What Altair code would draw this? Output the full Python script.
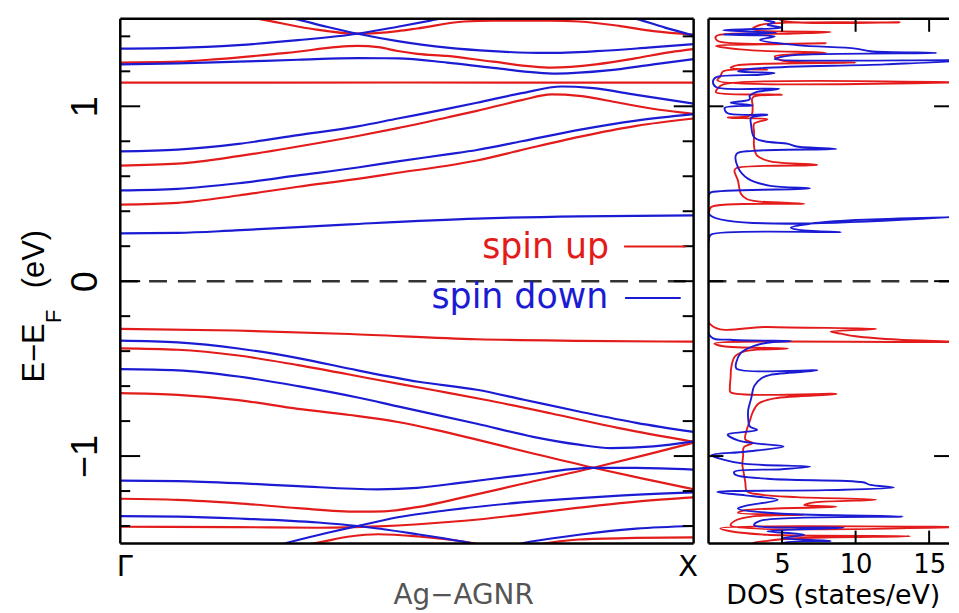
import altair as alt
import pandas as pd

RED = "#e31b1b"
BLUE = "#1b1bd4"
W1, W2, H = 577, 242, 528
DOS_MAX = W2 / 14.8

# ---------------- band structure: (k, E), k = 0 at Gamma, 1 at X ----------------
up_bands = {
    "u1": [(0.0, 1.56), (0.17, 1.535), (0.241, 1.50), (0.33, 1.445), (0.414, 1.415), (0.484, 1.43),
           (0.518, 1.445), (0.60, 1.485), (0.65, 1.49), (0.75, 1.49), (0.80, 1.485), (0.87, 1.46),
           (0.93, 1.43), (1.0, 1.41)],
    "u2": [(0.0, 1.25), (0.1, 1.255), (0.17, 1.27), (0.29, 1.305), (0.414, 1.345), (0.45, 1.338),
           (0.484, 1.316), (0.518, 1.30), (0.57, 1.288), (0.65, 1.255), (0.752, 1.221), (0.83, 1.24),
           (0.90, 1.275), (0.96, 1.31), (1.0, 1.327)],
    "u3": [(0.0, 1.135), (0.5, 1.136), (1.0, 1.135)],
    "u4": [(0.0, 0.661), (0.1, 0.672), (0.206, 0.715), (0.31, 0.77), (0.414, 0.83), (0.484, 0.875),
           (0.57, 0.936), (0.622, 0.974), (0.70, 1.035), (0.752, 1.068), (0.80, 1.06), (0.87, 1.02),
           (0.94, 0.98), (1.0, 0.957)],
    "u5": [(0.0, 0.438), (0.1, 0.448), (0.206, 0.49), (0.31, 0.54), (0.414, 0.585), (0.484, 0.62),
           (0.57, 0.66), (0.622, 0.69), (0.70, 0.75), (0.80, 0.825), (0.90, 0.888), (1.0, 0.93)],
    "u6": [(0.0, -0.273), (0.2, -0.282), (0.4, -0.302), (0.622, -0.332), (0.8, -0.341), (1.0, -0.346)],
    "u7": [(0.0, -0.384), (0.1, -0.392), (0.206, -0.425), (0.31, -0.48), (0.45, -0.565), (0.55, -0.625),
           (0.636, -0.678), (0.75, -0.755), (0.87, -0.84), (1.0, -0.918)],
    "u8": [(0.0, -0.64), (0.1, -0.65), (0.206, -0.68), (0.31, -0.73), (0.40, -0.765), (0.484, -0.805),
           (0.55, -0.85), (0.622, -0.906), (0.72, -0.985), (0.825, -1.067), (0.92, -1.135), (1.0, -1.19)],
    "u9": [(0.0, -1.244), (0.1, -1.25), (0.206, -1.27), (0.31, -1.298), (0.414, -1.318), (0.46, -1.316),
           (0.518, -1.292), (0.60, -1.235), (0.70, -1.16), (0.825, -1.067), (0.92, -0.99), (1.0, -0.923)],
    "u10": [(0.0, -1.404), (0.2, -1.406), (0.345, -1.41), (0.45, -1.402), (0.52, -1.39), (0.60, -1.37),
            (0.70, -1.335), (0.80, -1.295), (0.90, -1.26), (1.0, -1.236)],
    "u11": [(0.28, -1.53), (0.345, -1.495), (0.40, -1.46), (0.45, -1.447), (0.52, -1.46), (0.60, -1.49),
            (0.65, -1.52)],
    "u12": [(0.70, -1.52), (0.80, -1.477), (0.90, -1.468), (1.0, -1.465)],
}

down_bands = {
    "d1": [(0.0, 1.33), (0.1, 1.334), (0.206, 1.35), (0.31, 1.378), (0.414, 1.415), (0.484, 1.455),
           (0.541, 1.49), (0.60, 1.53), (0.70, 1.56), (0.80, 1.56), (0.90, 1.50), (0.95, 1.45), (1.0, 1.405)],
    "d2": [(0.23, 1.55), (0.305, 1.50), (0.36, 1.455), (0.414, 1.415), (0.484, 1.373), (0.57, 1.335),
           (0.65, 1.315), (0.743, 1.305), (0.83, 1.315), (0.92, 1.335), (1.0, 1.355)],
    "d3": [(0.0, 1.24), (0.1, 1.245), (0.206, 1.255), (0.31, 1.266), (0.414, 1.275), (0.484, 1.274),
           (0.57, 1.25), (0.65, 1.22), (0.761, 1.187), (0.85, 1.205), (0.93, 1.24), (1.0, 1.27)],
    "d4": [(0.0, 0.742), (0.1, 0.752), (0.206, 0.785), (0.31, 0.835), (0.414, 0.885), (0.484, 0.93),
           (0.57, 0.985), (0.622, 1.02), (0.70, 1.075), (0.77, 1.113), (0.82, 1.105), (0.90, 1.065),
           (1.0, 1.015)],
    "d5": [(0.0, 0.519), (0.1, 0.528), (0.206, 0.56), (0.31, 0.605), (0.414, 0.65), (0.484, 0.685),
           (0.57, 0.725), (0.622, 0.75), (0.70, 0.80), (0.80, 0.865), (0.90, 0.918), (1.0, 0.955)],
    "d6": [(0.0, 0.273), (0.1, 0.276), (0.2, 0.29), (0.4, 0.325), (0.622, 0.358), (0.8, 0.371), (1.0, 0.376)],
    "d7": [(0.0, -0.34), (0.1, -0.35), (0.206, -0.385), (0.31, -0.44), (0.414, -0.51), (0.52, -0.575),
           (0.622, -0.621), (0.704, -0.678), (0.80, -0.745), (0.90, -0.81), (1.0, -0.862)],
    "d8": [(0.0, -0.503), (0.1, -0.51), (0.206, -0.545), (0.31, -0.60), (0.414, -0.665), (0.484, -0.716),
           (0.622, -0.815), (0.72, -0.89), (0.80, -0.935), (0.856, -0.955), (0.93, -0.945), (1.0, -0.916)],
    "d9": [(0.0, -1.14), (0.1, -1.143), (0.206, -1.155), (0.31, -1.172), (0.449, -1.19), (0.518, -1.182),
           (0.60, -1.15), (0.70, -1.11), (0.825, -1.067), (0.90, -1.068), (1.0, -1.077)],
    "d10": [(0.0, -1.343), (0.1, -1.346), (0.206, -1.357), (0.345, -1.38), (0.414, -1.40), (0.518, -1.447),
            (0.60, -1.49), (0.657, -1.525), (0.714, -1.49), (0.80, -1.45), (0.90, -1.415), (1.0, -1.40)],
    "d11": [(0.24, -1.54), (0.298, -1.49), (0.36, -1.44), (0.414, -1.40), (0.484, -1.35), (0.57, -1.31),
            (0.70, -1.265), (0.85, -1.23), (1.0, -1.208)],
}

# ---------------- density of states: (E, DOS) ----------------
dos_up = [
    (-1.52, 3.0), (-1.50, 3.0), (-1.485, 4.0), (-1.47, 6.0), (-1.458, 13.7), (-1.45, 4.0), (-1.43, 1.5),
    (-1.413, 0.8), (-1.405, 18.0), (-1.397, 1.5), (-1.37, 1.8), (-1.345, 3.0), (-1.335, 6.5), (-1.325, 2.0),
    (-1.31, 2.5), (-1.29, 8.7), (-1.28, 6.5), (-1.265, 7.2), (-1.25, 11.4), (-1.235, 6.0), (-1.22, 3.5),
    (-1.20, 2.6), (-1.15, 2.5), (-1.10, 2.4), (-1.05, 2.3), (-1.00, 2.35), (-0.95, 2.4), (-0.925, 3.0),
    (-0.905, 2.5), (-0.85, 2.6), (-0.80, 2.8), (-0.75, 3.0), (-0.70, 3.4), (-0.67, 4.5), (-0.645, 8.7),
    (-0.635, 1.5), (-0.61, 1.45), (-0.55, 1.5), (-0.49, 1.55), (-0.43, 1.8), (-0.40, 2.5), (-0.385, 5.4),
    (-0.372, 1.0), (-0.356, 0.4), (-0.348, 17.5), (-0.335, 13.0), (-0.315, 10.0), (-0.30, 9.0),
    (-0.288, 8.3), (-0.273, 11.4), (-0.262, 4.0), (-0.245, 0.1), (0.40, 0.05), (0.425, 0.2), (0.443, 6.5),
    (0.455, 3.5), (0.47, 2.6), (0.50, 2.2), (0.575, 2.0), (0.632, 1.76), (0.647, 1.9), (0.665, 7.4),
    (0.685, 4.2), (0.718, 3.3), (0.765, 3.1), (0.85, 3.1), (0.90, 3.1), (0.925, 4.0), (0.935, 1.3),
    (0.95, 2.9), (1.00, 3.0), (1.05, 3.0), (1.067, 5.0), (1.08, 0.5), (1.10, 0.6), (1.125, 1.0),
    (1.137, 17.5), (1.148, 0.6), (1.17, 0.8), (1.20, 1.0), (1.21, 4.0), (1.22, 1.5), (1.235, 2.0),
    (1.25, 10.0), (1.262, 5.0), (1.285, 4.5), (1.305, 8.0), (1.32, 3.0), (1.345, 0.5), (1.36, 8.0),
    (1.375, 0.6), (1.40, 0.5), (1.415, 5.5), (1.425, 8.3), (1.44, 3.0), (1.465, 3.5), (1.48, 13.0),
    (1.49, 5.0), (1.52, 4.5),
]
dos_down = [
    (-1.52, 5.0), (-1.50, 5.0), (-1.485, 8.3), (-1.47, 5.0), (-1.45, 6.5), (-1.43, 4.0), (-1.41, 9.2),
    (-1.395, 3.1), (-1.37, 3.5), (-1.345, 13.2), (-1.33, 5.0), (-1.30, 2.0), (-1.285, 2.5), (-1.25, 4.7),
    (-1.225, 2.5), (-1.205, 0.6), (-1.195, 8.0), (-1.18, 12.6), (-1.165, 11.0), (-1.15, 10.5),
    (-1.13, 4.0), (-1.105, 1.8), (-1.09, 1.75), (-1.075, 5.0), (-1.06, 6.9), (-1.045, 2.5), (-1.02, 1.0),
    (-0.995, 0.2), (-0.975, 2.5), (-0.945, 5.1), (-0.93, 3.5), (-0.91, 2.0), (-0.877, 1.3), (-0.862, 2.5),
    (-0.85, 3.3), (-0.83, 2.8), (-0.79, 2.7), (-0.735, 2.7), (-0.67, 2.9), (-0.60, 3.1), (-0.555, 3.6),
    (-0.536, 4.2), (-0.51, 7.4), (-0.50, 1.9), (-0.46, 1.9), (-0.41, 2.2), (-0.37, 3.1), (-0.352, 4.0),
    (-0.342, 5.6), (-0.335, 1.5), (-0.313, 0.1), (0.25, 0.05), (0.268, 0.2), (0.281, 9.0), (0.29, 6.5),
    (0.306, 5.6), (0.33, 7.0), (0.35, 10.0), (0.37, 17.5), (0.378, 0.1), (0.50, 0.05), (0.509, 0.2),
    (0.53, 6.9), (0.545, 4.2), (0.585, 2.7), (0.651, 2.0), (0.727, 1.9), (0.745, 3.0), (0.756, 8.7),
    (0.77, 6.0), (0.785, 5.4), (0.80, 3.8), (0.822, 3.1), (0.89, 2.9), (0.935, 2.9), (0.952, 4.0),
    (0.96, 1.3), (0.99, 1.1), (1.005, 3.0), (1.02, 1.5), (1.04, 2.8), (1.06, 2.8), (1.08, 3.2),
    (1.10, 4.8), (1.11, 0.5), (1.14, 0.3), (1.165, 0.5), (1.18, 3.5), (1.19, 4.5), (1.20, 2.0),
    (1.215, 3.0), (1.24, 12.0), (1.262, 17.5), (1.27, 4.5), (1.29, 5.5), (1.305, 15.5), (1.315, 11.0),
    (1.33, 10.0), (1.35, 6.0), (1.38, 3.5), (1.40, 4.5), (1.41, 1.0), (1.42, 4.6), (1.435, 1.0),
    (1.45, 5.0), (1.465, 4.0), (1.48, 4.5), (1.495, 3.8), (1.52, 4.2),
]

k_labels = ["Γ", "X"]
minor_ticks = [-1.4, -1.2, -0.8, -0.6, -0.4, -0.2, 0.2, 0.4, 0.6, 0.8, 1.2, 1.4]
major_ticks = [-1.0, 0.0, 1.0]
zero_level = [0.0]
dos_ticks = [5, 10, 15]
legend_labels = ["spin up", "spin down"]
ytitle_parts = ["E−E", "F", "(eV)"]


def band_df(bands):
    rows = []
    for name, pts in bands.items():
        for k, e in pts:
            rows.append({"band": name, "k": k, "E": e})
    return pd.DataFrame(rows)


up_df = band_df(up_bands)
down_df = band_df(down_bands)
dos_up_df = pd.DataFrame(dos_up, columns=["E", "D"])
dos_down_df = pd.DataFrame(dos_down, columns=["E", "D"])
minor_df = pd.DataFrame({"v": minor_ticks})
major_df = pd.DataFrame({"v": major_ticks})
zero_df = pd.DataFrame({"v": zero_level})
dos_tick_df = pd.DataFrame({"v": dos_ticks})
one = pd.DataFrame({"a": [0]})

y_scale = alt.Scale(domain=[-1.5, 1.5], nice=False, zero=False)
k_scale = alt.Scale(domain=[0, 1], nice=False, zero=False)
d_scale = alt.Scale(domain=[0, DOS_MAX], nice=False, zero=False)

y_axis = alt.Axis(values=major_ticks, title=None, ticks=False, tickSize=0, domain=False, grid=False,
                  labelAngle=270, labelAlign="center", labelBaseline="alphabetic", labelPadding=24,
                  labelFontSize=38, labelFont="Liberation Sans", labelColor="black")
label_expr = "datum.value == 0 ? '%s' : '%s'" % (k_labels[0], k_labels[1])
k_axis = alt.Axis(values=[0, 1], labelExpr=label_expr, title="Ag−AGNR", ticks=False, tickSize=0,
                  domain=False, grid=False, labelFlush=True, labelFlushOffset=4, labelPadding=32,
                  labelBaseline="alphabetic", labelFontSize=29, labelFont="DejaVu Sans", labelColor="black",
                  titleFontSize=28, titleFont="DejaVu Sans", titleFontWeight="normal", titleColor="#555555",
                  titleX=345, titleY=60, titleBaseline="alphabetic")
d_axis = alt.Axis(values=dos_ticks, title="DOS (states/eV)", ticks=False, tickSize=0, domain=False,
                  grid=False, labelPadding=29, labelBaseline="alphabetic", labelFontSize=26,
                  labelFont="DejaVu Sans", labelColor="black", titleFontSize=27, titleFont="DejaVu Sans",
                  titleFontWeight="normal", titleColor="black", titleX=125, titleY=60,
                  titleBaseline="alphabetic")


def Y(field):
    return alt.Y(field, type="quantitative", scale=y_scale, axis=y_axis)


def hrule(x1, x2, y, color="black", width=2.5):
    return alt.Chart(one).mark_rule(color=color, strokeWidth=width).encode(
        x=alt.value(x1), x2=alt.value(x2), y=alt.value(y))


def vrule(x, y1, y2, color="black", width=2.5):
    return alt.Chart(one).mark_rule(color=color, strokeWidth=width).encode(
        x=alt.value(x), y=alt.value(y1), y2=alt.value(y2))


# ---------------- left panel: bands ----------------
red_lines = alt.Chart(up_df).mark_line(color=RED, strokeWidth=2.2, interpolate="monotone", clip=True).encode(
    x=alt.X("k:Q", scale=k_scale, axis=k_axis), y=Y("E"), detail="band:N")
blue_lines = alt.Chart(down_df).mark_line(color=BLUE, strokeWidth=2.2, interpolate="monotone", clip=True).encode(
    x=alt.X("k:Q", scale=k_scale, axis=k_axis), y=Y("E"), detail="band:N")
zero_left = alt.Chart(zero_df).mark_rule(color="#333333", strokeWidth=2.5, strokeDash=[18, 11]).encode(
    y=Y("v"), x=alt.value(0), x2=alt.value(W1))

tick_l_minor = alt.Chart(minor_df).mark_rule(color="black", strokeWidth=2).encode(
    y=Y("v"), x=alt.value(0), x2=alt.value(10))
tick_l_major = alt.Chart(major_df).mark_rule(color="black", strokeWidth=2).encode(
    y=Y("v"), x=alt.value(0), x2=alt.value(20))
tick_r_minor = alt.Chart(minor_df).mark_rule(color="black", strokeWidth=2).encode(
    y=Y("v"), x=alt.value(W1 - 11), x2=alt.value(W1))
tick_r_major = alt.Chart(major_df).mark_rule(color="black", strokeWidth=2).encode(
    y=Y("v"), x=alt.value(W1 - 20), x2=alt.value(W1))

leg_up_text = alt.Chart(pd.DataFrame({"t": [legend_labels[0]]})).mark_text(
    color=RED, font="DejaVu Sans", fontSize=35, align="right", baseline="alphabetic").encode(
    text="t:N", x=alt.value(492), y=alt.value(241))
leg_dn_text = alt.Chart(pd.DataFrame({"t": [legend_labels[1]]})).mark_text(
    color=BLUE, font="DejaVu Sans", fontSize=35, align="right", baseline="alphabetic").encode(
    text="t:N", x=alt.value(491), y=alt.value(291))
leg_up_line = hrule(507, 569, 229, RED, 2)
leg_dn_line = hrule(508, 564, 281, BLUE, 2)

yt1 = alt.Chart(pd.DataFrame({"t": [ytitle_parts[0]]})).mark_text(
    font="Liberation Sans", fontSize=31, angle=270, align="left", baseline="alphabetic", color="black").encode(
    text="t:N", x=alt.value(-77), y=alt.value(366))
yt2 = alt.Chart(pd.DataFrame({"t": [ytitle_parts[1]]})).mark_text(
    font="Liberation Sans", fontSize=22, angle=270, align="left", baseline="alphabetic", color="black").encode(
    text="t:N", x=alt.value(-60), y=alt.value(306))
yt3 = alt.Chart(pd.DataFrame({"t": [ytitle_parts[2]]})).mark_text(
    font="Liberation Sans", fontSize=31, angle=270, align="left", baseline="alphabetic", color="black").encode(
    text="t:N", x=alt.value(-77), y=alt.value(271))

left = alt.layer(
    red_lines, blue_lines, zero_left, tick_l_minor, tick_l_major, tick_r_minor, tick_r_major,
    leg_up_text, leg_dn_text, leg_up_line, leg_dn_line, yt1, yt2, yt3,
    vrule(0, 0, H), vrule(W1, 0, H), hrule(0, W1, 0), hrule(0, W1, H),
).properties(width=W1, height=H)


# ---------------- right panel: DOS ----------------
def DX(field):
    return alt.X(field, type="quantitative", scale=d_scale, axis=d_axis)


def DY(field):
    return alt.Y(field, type="quantitative", scale=y_scale, axis=None)


dos_red = alt.Chart(dos_up_df).mark_line(color=RED, strokeWidth=1.9, clip=True,
                                         interpolate="catmull-rom").encode(
    x=DX("D"), y=DY("E"), order=alt.Order("E:Q"))
dos_blue = alt.Chart(dos_down_df).mark_line(color=BLUE, strokeWidth=1.9, clip=True,
                                            interpolate="catmull-rom").encode(
    x=DX("D"), y=DY("E"), order=alt.Order("E:Q"))
zero_right = alt.Chart(zero_df).mark_rule(color="#333333", strokeWidth=2.5, strokeDash=[18, 11]).encode(
    y=DY("v"), x=alt.value(0), x2=alt.value(W2))
dtick_l = alt.Chart(major_df).mark_rule(color="black", strokeWidth=2).encode(
    y=DY("v"), x=alt.value(0), x2=alt.value(15))
dtick_r = alt.Chart(major_df).mark_rule(color="black", strokeWidth=2).encode(
    y=DY("v"), x=alt.value(W2 - 15), x2=alt.value(W2))
dtick_t = alt.Chart(dos_tick_df).mark_rule(color="black", strokeWidth=2).encode(
    x=DX("v"), y=alt.value(0), y2=alt.value(13))
dtick_b = alt.Chart(dos_tick_df).mark_rule(color="black", strokeWidth=2).encode(
    x=DX("v"), y=alt.value(H - 13), y2=alt.value(H))

right = alt.layer(
    dos_red, dos_blue, zero_right, dtick_l, dtick_r, dtick_t, dtick_b,
    vrule(0, 0, H), hrule(0, W2, 0), hrule(0, W2, H),
).properties(width=W2, height=H)

chart = alt.hconcat(left, right, spacing=9).properties(
    padding={"left": 11, "top": 7, "right": 0, "bottom": 0}
).configure(background="white").configure_view(strokeWidth=0)

chart.save("out.html", embed_options={"renderer": "svg", "actions": False})
